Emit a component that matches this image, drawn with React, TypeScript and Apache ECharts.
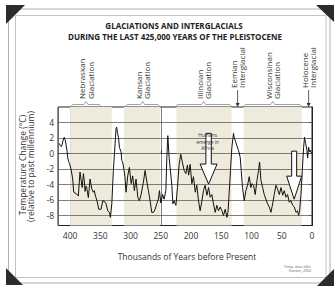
import React, { useEffect, useRef } from "react";
import * as echarts from "echarts";

const FONT = "Open Sans";

// Age (thousands of years before present) and temperature change (°C)
const ages = [
  418, 416, 414, 412, 409.6, 408, 406.8, 405, 404, 402.5, 401, 398.5, 395.7, 394, 392, 390, 388, 386.4,
  383.6, 381.5, 380, 378, 376.5, 375.3, 373.5, 372.5, 369.8, 367, 365.5, 364, 361.6, 360, 358, 355.5,
  352.6, 348.8, 346, 343, 340.5, 337.7, 335, 333.4, 331, 328.5, 325.6, 324, 323, 321.5, 320, 318.5,
  315.7, 314.6, 313, 310.8, 309.3, 307.5, 304.7, 302, 299, 296.5, 293.7, 291, 288, 285.4, 282.6, 278.8,
  276, 273, 270.5, 267.7, 265, 262, 259.4, 256.7, 254, 252.2, 250, 247, 244.5, 241.7, 240, 238.4, 236.3,
  234.6, 231.8, 230, 228, 225, 222.5, 219.7, 217, 214.2, 211.4, 208.6, 206, 204, 201.5, 198.7, 196, 193,
  190.5, 187.7, 185, 182, 179.5, 176.7, 173.8, 171, 168.4, 165.6, 163, 160, 157.4, 154.6, 151.8, 149,
  146.4, 143.5, 140.7, 139, 137, 134.8, 132.5, 129.8, 128.5, 127, 124.2, 121.5, 118.7, 117, 114.9, 112,
  109.3, 106.5, 103.8, 101, 99.3, 96.7, 93.9, 91, 88.4, 86.7, 84.4, 81.6, 79, 76.2, 73.5, 70.7, 67.9,
  65.1, 62.4, 59.6, 57, 54, 51.3, 48.5, 45.9, 43, 40.4, 37.6, 34.8, 32, 29.3, 26.5, 23.8, 22.2, 20.5,
  18.2, 16, 13.9, 12.3, 10.6, 8.3, 7.3, 5.6, 4, 2.3, 0.7,
];
const temps = [
  1.3, 1.0, 0.9, 1.6, 2.1, 1.7, 1.2, 0.3, -0.5, -1.0, -1.3, -2.0, -3.3, -5.0, -5.1, -5.2, -5.3, -5.5,
  -2.4, -3.6, -4.4, -2.6, -3.5, -4.9, -4.2, -4.4, -5.7, -3.3, -4.0, -4.6, -5.0, -4.8, -5.5, -6.1,
  -7.2, -7.2, -6.1, -6.2, -6.5, -7.4, -7.6, -8.25, -6.5, -2.2, 1.25, 3.2, 3.4, 2.6, 2.1, 0.8,
  0.2, -0.9, -1.1, -2.2, -3.0, -5.0, -2.9, -1.8, -3.9, -2.9, -4.8, -3.3, -5.65, -6.1, -5.3, -3.7,
  -2.2, -3.7, -4.8, -6.1, -7.6, -7.6, -7.2, -6.5, -5.9, -4.8, -6.4, -5.3, -5.9, -4.8, -0.5, 2.3, -0.5,
  -1.8, -4.1, -6.5, -6.1, -6.7, -4.4, -1.4, -0.1, -1.2, -2.2, -2.6, -1.5, -2.8, -1.4, -3.9, -3.0, -5.0,
  -4.1, -6.1, -7.4, -6.1, -4.8, -4.1, -5.4, -4.4, -5.65, -5.3, -6.5, -7.6, -6.7, -7.4, -6.9, -7.4,
  -8.0, -7.2, -8.25, -7.6, -5.2, -2.2, 0.8, 2.6, 2.0, 1.7, 1.0, 0.4, -0.5, -2.2, -4.4, -6.1,
  -4.8, -4.1, -3.0, -4.4, -3.9, -4.1, -5.3, -3.5, -2.2, -1.1, -3.5, -4.4, -5.3, -5.9, -6.5, -6.9, -7.6,
  -6.5, -5.3, -4.1, -4.6, -5.3, -4.4, -5.4, -4.8, -5.65, -5.3, -6.3, -6.1, -6.7, -6.9, -7.6, -7.4, -8.0, -7.4,
  -5.3, -2.2, 0.8, 2.1, 1.3, 0.4, -0.6, 0.8, 0.2, 0.4, 0.0,
];

const yTickValues = [-8, -6, -4, -2, 0, 2, 4];
const gridLevels = [-8, -6, -4, -2, 0, 2, 4];

// Glaciation periods (kyr BP): start, end
const glaciationNames = ["Nebraskan", "Kansan", "Illinoian", "Wisconsinan"];
const glaciationStart = [400, 311, 224, 113];
const glaciationEnd = [331, 251, 133, 17];
const bracketStart = [399, 309, 226, 113.5];
const bracketEnd = [348, 251, 132.5, 16.5];
// Interglacial markers
const interglacialNames = ["Eemian", "Holocene"];
const interglacialAt = [123, 5.6];

// Arrows: age of tip, temp of tip
const arrowAges = [171, 29.5];
const arrowTipTemps = [-3.95, -5.9];
const arrowTopTemps = [2.6, 0.3];
const humansLines = ["Humans", "emerge in", "Africa"];

export default function App() {
  const ref = useRef<HTMLDivElement>(null);
  useEffect(() => {
    if (!ref.current) return;
    const chart = echarts.init(ref.current, null, { renderer: "svg", width: 335, height: 287 });
    const data = ages.map((a, i) => [a, temps[i]]);
    chart.setOption({
      animation: false,
      backgroundColor: "#ffffff",
      textStyle: { fontFamily: FONT },
      grid: {
        left: 58, top: 107, width: 254, height: 118.5,
        show: true, borderColor: "#222", borderWidth: 1, backgroundColor: "#fff",
      },
      xAxis: {
        type: "value", inverse: true, min: 0, max: 420, interval: 50,
        axisLine: { show: true, lineStyle: { color: "#222", width: 1 } },
        axisTick: { show: true, inside: true, length: 3, lineStyle: { color: "#222" } },
        axisLabel: { showMaxLabel: false, fontSize: 8.5, color: "#333", margin: 5, fontFamily: FONT },
        splitLine: { show: true, lineStyle: { color: "#5e5e5e", width: 0.8 } },
      },
      yAxis: {
        type: "value", min: -9.3, max: 6,
        axisLine: { show: true, lineStyle: { color: "#222", width: 1 } },
        axisTick: { show: true, length: 3, customValues: yTickValues, lineStyle: { color: "#444" } },
        axisLabel: { customValues: yTickValues, fontSize: 8.5, color: "#333", margin: 4, fontFamily: FONT },
        splitLine: { show: false },
      },
      series: [
        {
          type: "line",
          data,
          symbol: "none",
          showSymbol: false,
          lineStyle: { color: "#111", width: 1 },
          z: 5,
          markArea: {
            silent: true,
            itemStyle: { color: "#eeebdc" },
            data: glaciationStart.map((s, i) => [{ xAxis: s }, { xAxis: glaciationEnd[i] }]),
          },
          markLine: {
            silent: true,
            symbol: "none",
            label: { show: false },
            lineStyle: { color: "#5e5e5e", width: 0.8, type: "solid" },
            data: gridLevels.map((v) => ({ yAxis: v })),
          },
        },
      ],
    });

    const px = (age: number) => chart.convertToPixel({ xAxisIndex: 0 }, age) as number;
    const py = (t: number) => chart.convertToPixel({ yAxisIndex: 0 }, t) as number;
    const g: any[] = [];
    // frame
    g.push({ type: "rect", shape: { x: 8.5, y: 9, width: 321.5, height: 274 }, style: { fill: "none", stroke: "#b0b0b0", lineWidth: 1 }, z: 1 });
    g.push({ type: "rect", shape: { x: 15.5, y: 15.5, width: 310.5, height: 262 }, style: { fill: "none", stroke: "#c4c4c4", lineWidth: 1 }, z: 1 });
    // corners
    const cornerStyle = { fill: "#2b2b2b" };
    g.push({ type: "polygon", shape: { points: [[6, 5], [25, 5], [6, 24]] }, style: cornerStyle, z: 2 });
    g.push({ type: "polygon", shape: { points: [[316, 5], [334, 5], [334, 22]] }, style: cornerStyle, z: 2 });
    g.push({ type: "polygon", shape: { points: [[6, 268], [6, 285], [23, 285]] }, style: cornerStyle, z: 2 });
    g.push({ type: "polygon", shape: { points: [[334, 269], [334, 286], [317, 286]] }, style: cornerStyle, z: 2 });
    // title
    g.push({ type: "text", x: 174, y: 25, style: { text: "GLACIATIONS AND INTERGLACIALS", font: `bold 8px ${FONT}`, fill: "#222", align: "center", verticalAlign: "middle" } });
    g.push({ type: "text", x: 175, y: 36, style: { text: "DURING THE LAST 425,000 YEARS OF THE PLEISTOCENE", font: `bold 8px ${FONT}`, fill: "#222", align: "center", verticalAlign: "middle" } });
    // glaciation brackets and labels
    glaciationNames.forEach((name, i) => {
      const x1 = px(bracketStart[i]);
      const x2 = px(bracketEnd[i]);
      const xm = (x1 + x2) / 2;
      g.push({ type: "polyline", shape: { points: [[x1, 107], [x1 + 2, 104.5], [xm - 2, 104.5], [xm, 101.5], [xm + 2, 104.5], [x2 - 2, 104.5], [x2, 107]] }, style: { stroke: "#8a8a8a", lineWidth: 0.8, fill: "none" } });
      [name, "Glaciation"].forEach((line, j) => {
        g.push({ type: "text", x: xm - 4.3 + j * 8.6, y: 99, rotation: Math.PI / 2, style: { text: line, font: `8px ${FONT}`, fill: "#333", align: "left", verticalAlign: "middle" } });
      });
    });
    interglacialNames.forEach((name, i) => {
      const x = px(interglacialAt[i]);
      g.push({ type: "line", shape: { x1: x, y1: 90, x2: x, y2: 104 }, style: { stroke: "#333", lineWidth: 0.8 } });
      g.push({ type: "polygon", shape: { points: [[x - 2, 103], [x + 2, 103], [x, 107]] }, style: { fill: "#333" } });
      [name, "Interglacial"].forEach((line, j) => {
        g.push({ type: "text", x: x - 4.3 + j * 8.6, y: 88, rotation: Math.PI / 2, style: { text: line, font: `8px ${FONT}`, fill: "#333", align: "left", verticalAlign: "middle" } });
      });
    });
    // big arrows
    const headW = [8.5, 7.5];
    const shaftW = [2.7, 2.5];
    const headH = [20, 23];
    arrowAges.forEach((a, i) => {
      const x = px(a);
      const tip = py(arrowTipTemps[i]);
      const top = py(arrowTopTemps[i]);
      const hb = tip - headH[i];
      g.push({
        type: "polygon", z: 10,
        shape: { points: [[x - shaftW[i], top], [x + shaftW[i], top], [x + shaftW[i], hb], [x + headW[i], hb], [x, tip], [x - headW[i], hb], [x - shaftW[i], hb]] },
        style: { fill: "#fff", stroke: "#111", lineWidth: 1 },
      });
    });
    humansLines.forEach((line, j) => {
      g.push({
        type: "text", z: 11, x: px(arrowAges[0]) - 1, y: 135 + j * 6.7,
        style: { text: line, font: `4.8px ${FONT}`, fill: "#333", align: "center", verticalAlign: "middle" },
      });
    });
    // axis titles
    g.push({ type: "text", x: 22.7, y: 165, rotation: Math.PI / 2, style: { text: "Temperature Change (°C)", font: `8.5px ${FONT}`, fill: "#333", align: "center", verticalAlign: "middle" } });
    g.push({ type: "text", x: 30.7, y: 166.5, rotation: Math.PI / 2, style: { text: "(relative to past millennium)", font: `8.5px ${FONT}`, fill: "#333", align: "center", verticalAlign: "middle" } });
    g.push({ type: "text", x: 187, y: 256, style: { text: "Thousands of Years before Present", font: `8.5px ${FONT}`, fill: "#333", align: "center", verticalAlign: "middle" } });
    g.push({ type: "text", x: 311, y: 268.5, style: { text: "Temp. data after\nHansen, 2004", font: `3.5px ${FONT}`, lineHeight: 4, fill: "#666", align: "right", verticalAlign: "middle" } });

    chart.setOption({ graphic: g });
    return () => chart.dispose();
  }, []);
  return <div ref={ref} style={{ position: "absolute", left: 0, top: 0, width: 335, height: 287 }} />;
}
